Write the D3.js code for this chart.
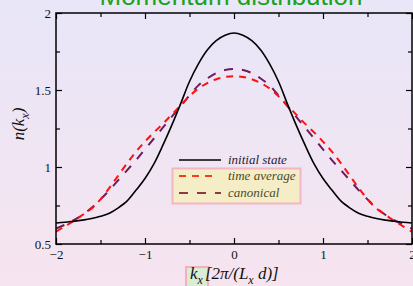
<!DOCTYPE html>
<html>
<head>
<meta charset="utf-8">
<script src="https://cdn.jsdelivr.net/npm/d3@7"></script>
<style>
  html, body { margin: 0; padding: 0; overflow: hidden; }
  body { width: 413px; height: 286px; }
</style>
</head>
<body>
<script>
// momentum grid, step 0.1
var kx = d3.range(-20, 21).map(function(i) { return i / 10; });

var initialState = [0.636, 0.641, 0.648, 0.655, 0.665, 0.68, 0.70, 0.735, 0.78, 0.85, 0.925,
  1.02, 1.14, 1.27, 1.41, 1.555, 1.67, 1.76, 1.82, 1.855, 1.87,
  1.855, 1.82, 1.76, 1.67, 1.555, 1.41, 1.27, 1.14, 1.02, 0.925,
  0.85, 0.78, 0.735, 0.70, 0.68, 0.665, 0.655, 0.648, 0.641, 0.636];

var timeAverage = [0.58, 0.615, 0.65, 0.69, 0.73, 0.79, 0.865, 0.945, 1.025, 1.10, 1.165,
  1.225, 1.28, 1.34, 1.40, 1.46, 1.51, 1.545, 1.57, 1.585, 1.59,
  1.585, 1.57, 1.545, 1.51, 1.46, 1.40, 1.34, 1.28, 1.225, 1.165,
  1.10, 1.025, 0.945, 0.865, 0.79, 0.73, 0.69, 0.65, 0.615, 0.58];

var canonical = [0.60, 0.625, 0.655, 0.69, 0.735, 0.79, 0.85, 0.915, 0.98, 1.045, 1.115,
  1.185, 1.255, 1.325, 1.395, 1.465, 1.53, 1.575, 1.61, 1.63, 1.636,
  1.63, 1.61, 1.575, 1.53, 1.465, 1.395, 1.325, 1.255, 1.185, 1.115,
  1.045, 0.98, 0.915, 0.85, 0.79, 0.735, 0.69, 0.655, 0.625, 0.60];

var xTicks = [-2, -1, 0, 1, 2];
var xMinor = [-1.5, -0.5, 0.5, 1.5];
var yTicks = [0.5, 1, 1.5, 2];
var yMinor = [0.75, 1.25, 1.75];

var seriesNames = ["initial state", "time average", "canonical"];
var seriesColors = ["#000000", "#ff1010", "#6e1a5e"];
var seriesDash = [null, "7,6", "9,9"];
var seriesValues = [initialState, timeAverage, canonical];

var W = 413, H = 286;
var margin = {left: 56, right: 1, top: 13, bottom: 42};
var serif = "Liberation Serif";

var svg = d3.select("body").append("svg")
    .attr("width", W)
    .attr("height", H);

// background gradient
var grad = svg.append("defs").append("linearGradient")
    .attr("id", "bg").attr("x1", 0).attr("y1", 0).attr("x2", 0).attr("y2", 1);
grad.append("stop").attr("offset", "0%").attr("stop-color", "#e8e6f8");
grad.append("stop").attr("offset", "100%").attr("stop-color", "#f6e4ef");
svg.append("rect").attr("width", W).attr("height", H).attr("fill", "url(#bg)");

var x = d3.scaleLinear().domain([-2, 2]).range([margin.left, W - margin.right]);
var y = d3.scaleLinear().domain([0.5, 2]).range([H - margin.bottom, margin.top]);

// title (partly above the window)
svg.append("text")
    .attr("x", 231).attr("y", 5)
    .attr("text-anchor", "middle")
    .attr("font-family", "Liberation Sans")
    .attr("font-size", 26)
    .attr("fill", "#1aa31a")
    .text("Momentum distribution");

// curves
svg.append("clipPath").attr("id", "plotclip").append("rect")
    .attr("x", x(-2)).attr("y", y(2)).attr("width", x(2) - x(-2)).attr("height", y(0.5) - y(2));

var line = d3.line()
    .x(function(d) { return x(d[0]); })
    .y(function(d) { return y(d[1]); })
    .curve(d3.curveCatmullRom);

var plot = svg.append("g").attr("clip-path", "url(#plotclip)");
[2, 1, 0].forEach(function(i) {
    plot.append("path")
        .datum(kx.map(function(k, j) { return [k, seriesValues[i][j]]; }))
        .attr("d", line)
        .attr("fill", "none")
        .attr("stroke", seriesColors[i])
        .attr("stroke-width", i === 0 ? 1.6 : 2)
        .attr("stroke-dasharray", seriesDash[i]);
});

// axes, ticks pointing inward
function styleAxis(g) {
    g.attr("font-family", serif).attr("font-size", 13);
    g.select(".domain").remove();
    g.selectAll(".tick line").attr("stroke", "#000").attr("stroke-width", 1.2);
    g.selectAll(".tick text")
        .attr("font-family", serif)
        .attr("font-size", 13)
        .attr("fill", "#111");
}

var bottom = svg.append("g").attr("transform", "translate(0," + y(0.5) + ")")
    .call(d3.axisBottom(x).tickValues(xTicks).tickSizeInner(-6).tickSizeOuter(0).tickPadding(6)
        .tickFormat(d3.format("d")));
styleAxis(bottom);
bottom.selectAll(".tick text").attr("dy", "0.71em").attr("y", 6);

svg.append("g").attr("transform", "translate(0," + y(0.5) + ")")
    .call(d3.axisBottom(x).tickValues(xMinor).tickSize(-4).tickFormat(""))
    .call(styleAxis);
svg.append("g").attr("transform", "translate(0," + y(2) + ")")
    .call(d3.axisTop(x).tickValues(xTicks).tickSize(-6).tickFormat(""))
    .call(styleAxis);
svg.append("g").attr("transform", "translate(0," + y(2) + ")")
    .call(d3.axisTop(x).tickValues(xMinor).tickSize(-4).tickFormat(""))
    .call(styleAxis);

var left = svg.append("g").attr("transform", "translate(" + x(-2) + ",0)")
    .call(d3.axisLeft(y).tickValues(yTicks).tickSizeInner(-6).tickSizeOuter(0).tickPadding(6)
        .tickFormat(d3.format("")));
styleAxis(left);
left.selectAll(".tick text").attr("x", -5);

svg.append("g").attr("transform", "translate(" + x(-2) + ",0)")
    .call(d3.axisLeft(y).tickValues(yMinor).tickSize(-4).tickFormat(""))
    .call(styleAxis);
svg.append("g").attr("transform", "translate(" + x(2) + ",0)")
    .call(d3.axisRight(y).tickValues(yTicks).tickSize(-6).tickFormat(""))
    .call(styleAxis);
svg.append("g").attr("transform", "translate(" + x(2) + ",0)")
    .call(d3.axisRight(y).tickValues(yMinor).tickSize(-4).tickFormat(""))
    .call(styleAxis);

// frame
svg.append("rect")
    .attr("x", x(-2)).attr("y", y(2))
    .attr("width", x(2) - x(-2)).attr("height", y(0.5) - y(2))
    .attr("fill", "none").attr("stroke", "#000").attr("stroke-width", 1.5);

// legend
svg.append("rect")
    .attr("x", 172.5).attr("y", 168.5).attr("width", 128).attr("height", 35)
    .attr("fill", "#f5edc6").attr("stroke", "#f2b6c6").attr("stroke-width", 2);

var legendY = [160, 176, 193];
var legendLen = [42, 34, 42];
var legendText = ["#2a2030", "#4b4a2c", "#4b4a2c"];
var legendStroke = ["#000000", "#ff3a1a", "#8a3a46"];
seriesNames.forEach(function(name, i) {
    svg.append("line")
        .attr("x1", 179).attr("x2", 179 + legendLen[i])
        .attr("y1", legendY[i]).attr("y2", legendY[i])
        .attr("stroke", legendStroke[i])
        .attr("stroke-width", i === 0 ? 1.6 : 2)
        .attr("stroke-dasharray", seriesDash[i]);
    svg.append("text")
        .attr("x", 228).attr("y", legendY[i] + 4)
        .attr("font-family", serif)
        .attr("font-style", "italic")
        .attr("font-size", 13)
        .attr("fill", legendText[i])
        .text(name);
});

// y axis label
var yl = svg.append("text")
    .attr("transform", "translate(24,124) rotate(-90)")
    .attr("text-anchor", "middle")
    .attr("font-family", serif)
    .attr("font-style", "italic")
    .attr("font-size", 17)
    .attr("fill", "#111");
yl.append("tspan").text("n(k");
yl.append("tspan").attr("dy", 5).attr("font-size", 12).text("x");
yl.append("tspan").attr("dy", -5).text(")");

// x axis label, with the small box behind k_x
svg.append("rect")
    .attr("x", 186).attr("y", 267).attr("width", 22).attr("height", 22)
    .attr("fill", "#d9ecd6").attr("stroke", "#f0b0bc").attr("stroke-width", 2);

var xl = svg.append("text")
    .attr("x", 190).attr("y", 279)
    .attr("font-family", serif)
    .attr("font-size", 17)
    .attr("font-style", "italic")
    .attr("fill", "#111");
xl.append("tspan").text("k");
xl.append("tspan").attr("dy", 5).attr("font-size", 12).text("x");
xl.append("tspan").attr("dy", -5).attr("dx", 2).text("[2π/(L");
xl.append("tspan").attr("dy", 5).attr("font-size", 12).text("x");
xl.append("tspan").attr("dy", -5).text(" d)]");
</script>
</body>
</html>
